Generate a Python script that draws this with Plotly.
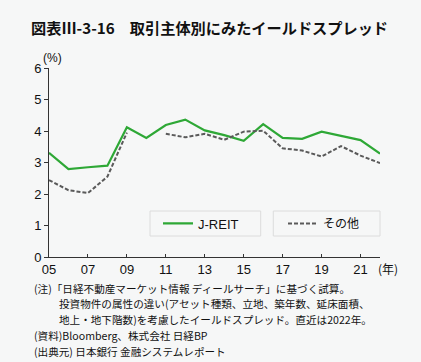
import plotly.graph_objects as go

years = list(range(2005, 2023))
jreit = [3.31, 2.79, 2.85, 2.90, 4.12, 3.78, 4.19, 4.36, 4.02, 3.87, 3.69, 4.22, 3.78, 3.75, 3.98, 3.84, 3.71, 3.28]
other = [2.44, 2.12, 2.03, 2.55, 3.95, None, 3.91, 3.80, 3.91, 3.72, 3.98, 4.01, 3.45, 3.38, 3.19, 3.52, 3.22, 2.98]
tick_vals = [2005, 2007, 2009, 2011, 2013, 2015, 2017, 2019, 2021]
tick_text = ["05", "07", "09", "11", "13", "15", "17", "19", "21"]

title = "<b>図表Ⅲ-3-16　取引主体別にみたイールドスプレッド</b>"
notes = [
    "(注)「日経不動産マーケット情報 ディールサーチ」に基づく試算。",
    "投資物件の属性の違い(アセット種類、立地、築年数、延床面積、",
    "地上・地下階数)を考慮したイールドスプレッド。直近は2022年。",
    "(資料)Bloomberg、株式会社 日経BP",
    "(出典元) 日本銀行 金融システムレポート",
]

BG = "#f6f7f7"
FONT = "Liberation Sans, Noto Sans CJK JP, sans-serif"
JFONT = "Noto Sans CJK JP, sans-serif"

fig = go.Figure()
fig.add_trace(go.Scatter(x=years, y=jreit, mode="lines", name="J-REIT", showlegend=True,
                         line=dict(color="#2ea836", width=2.2), legend="legend"))
fig.add_trace(go.Scatter(x=years, y=other, mode="lines", name="その他", showlegend=True,
                         line=dict(color="#5a5a5a", width=2, dash="4px,2px"),
                         connectgaps=False, legend="legend2"))

L, R, T, B = 49, 41, 68, 105
W, H = 421, 362
pw = W - L - R
ph = H - T - B

def px(x):
    return (x - L) / pw

def py(y):
    return (H - B - y) / ph

shapes = [
    dict(type="rect", xref="paper", yref="paper", x0=px(150), x1=px(260.7), y0=py(236), y1=py(211),
         line=dict(color="#dcdcdc", width=1), fillcolor=BG, layer="below"),
    dict(type="rect", xref="paper", yref="paper", x0=px(273.3), x1=px(380), y0=py(236), y1=py(211),
         line=dict(color="#dcdcdc", width=1), fillcolor=BG, layer="below"),
]

NF = dict(family=JFONT, size=10.6, color="#111")
annotations = [
    dict(text=title, xref="paper", yref="paper", x=px(29), y=py(27), xanchor="left", yanchor="middle",
         showarrow=False, font=dict(family=JFONT, size=15.2, color="#111")),
    dict(text="(%)", xref="paper", yref="paper", x=px(41), y=py(58), xanchor="left", yanchor="middle",
         showarrow=False, font=dict(family=FONT, size=12, color="#111")),
    dict(text="(年)", xref="paper", yref="paper", x=px(376), y=py(268), xanchor="left", yanchor="middle",
         showarrow=False, font=dict(family=JFONT, size=12, color="#111")),
]
note_pos = [(32, 288), (57, 303.5), (57, 319), (32, 335.5), (32, 351)]
for t, (x, y) in zip(notes, note_pos):
    annotations.append(dict(text=t, xref="paper", yref="paper", x=px(x), y=py(y), xanchor="left",
                            yanchor="middle", showarrow=False, font=NF))

fig.update_layout(
    width=W, height=H,
    margin=dict(l=L, r=R, t=T, b=B),
    paper_bgcolor=BG, plot_bgcolor=BG,
    font=dict(family=FONT, size=13, color="#111"),
    shapes=shapes,
    annotations=annotations,
    showlegend=True,
    legend=dict(x=px(158), y=py(223.5), xanchor="left", yanchor="middle", bgcolor="rgba(0,0,0,0)",
                font=dict(family=FONT, size=13, color="#111")),
    legend2=dict(x=px(283), y=py(223.5), xanchor="left", yanchor="middle", bgcolor="rgba(0,0,0,0)",
                 font=dict(family=JFONT, size=12, color="#111")),
    xaxis=dict(range=[2005, 2022], tickvals=tick_vals, ticktext=tick_text, showgrid=False, zeroline=False,
               showline=True, linecolor="#333", linewidth=1, ticks="inside", ticklen=3, tickcolor="#333",
               tickfont=dict(size=13)),
    yaxis=dict(range=[0, 6], tickvals=[0, 1, 2, 3, 4, 5, 6], showgrid=False, zeroline=False,
               showline=True, linecolor="#333", linewidth=1, ticks="outside", ticklen=4, tickcolor="#333",
               tickfont=dict(size=13)),
)

fig.write_html("out.html", config={"displayModeBar": False},
               post_script="document.body.style.margin='0';document.body.style.background='%s';" % BG)
